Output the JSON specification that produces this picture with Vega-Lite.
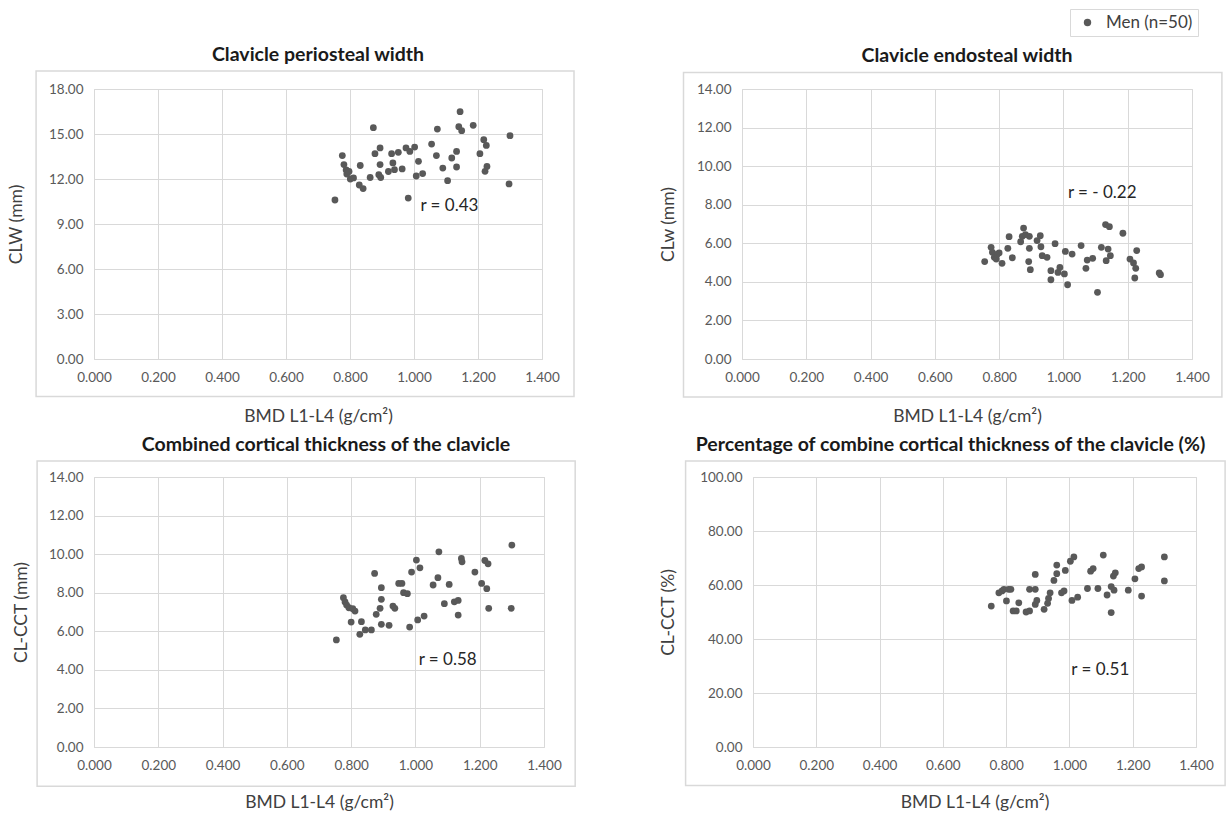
{
  "$schema": "https://vega.github.io/schema/vega-lite/v6.json",
  "background": "white",
  "padding": {"left": 6, "top": 8, "right": 0, "bottom": 0},
  "datasets": {
    "one": [{}],
    "p1": [
      {"bmd":0.753,"v":10.6,"g":"Men (n=50)"},{"bmd":0.776,"v":13.56,"g":"Men (n=50)"},{"bmd":0.781,"v":12.96,"g":"Men (n=50)"},{"bmd":0.788,"v":12.6,"g":"Men (n=50)"},{"bmd":0.79,"v":12.33,"g":"Men (n=50)"},{"bmd":0.797,"v":12.5,"g":"Men (n=50)"},{"bmd":0.801,"v":12.0,"g":"Men (n=50)"},{"bmd":0.811,"v":12.07,"g":"Men (n=50)"},{"bmd":0.829,"v":11.6,"g":"Men (n=50)"},{"bmd":0.832,"v":12.9,"g":"Men (n=50)"},
      {"bmd":0.841,"v":11.36,"g":"Men (n=50)"},{"bmd":0.863,"v":12.1,"g":"Men (n=50)"},{"bmd":0.873,"v":15.42,"g":"Men (n=50)"},{"bmd":0.878,"v":13.69,"g":"Men (n=50)"},{"bmd":0.894,"v":14.07,"g":"Men (n=50)"},{"bmd":0.894,"v":12.96,"g":"Men (n=50)"},{"bmd":0.89,"v":12.29,"g":"Men (n=50)"},{"bmd":0.896,"v":12.1,"g":"Men (n=50)"},{"bmd":0.92,"v":12.5,"g":"Men (n=50)"},{"bmd":0.93,"v":13.69,"g":"Men (n=50)"},
      {"bmd":0.934,"v":13.07,"g":"Men (n=50)"},{"bmd":0.939,"v":12.62,"g":"Men (n=50)"},{"bmd":0.951,"v":13.78,"g":"Men (n=50)"},{"bmd":0.963,"v":12.67,"g":"Men (n=50)"},{"bmd":0.975,"v":14.07,"g":"Men (n=50)"},{"bmd":0.987,"v":13.84,"g":"Men (n=50)"},{"bmd":0.982,"v":10.73,"g":"Men (n=50)"},{"bmd":1.002,"v":14.13,"g":"Men (n=50)"},{"bmd":1.007,"v":12.2,"g":"Men (n=50)"},{"bmd":1.014,"v":13.18,"g":"Men (n=50)"},
      {"bmd":1.027,"v":12.36,"g":"Men (n=50)"},{"bmd":1.055,"v":14.33,"g":"Men (n=50)"},{"bmd":1.07,"v":13.56,"g":"Men (n=50)"},{"bmd":1.073,"v":15.33,"g":"Men (n=50)"},{"bmd":1.09,"v":12.73,"g":"Men (n=50)"},{"bmd":1.105,"v":11.89,"g":"Men (n=50)"},{"bmd":1.118,"v":13.4,"g":"Men (n=50)"},{"bmd":1.133,"v":13.84,"g":"Men (n=50)"},{"bmd":1.133,"v":12.8,"g":"Men (n=50)"},{"bmd":1.14,"v":15.49,"g":"Men (n=50)"},
      {"bmd":1.144,"v":16.49,"g":"Men (n=50)"},{"bmd":1.149,"v":15.22,"g":"Men (n=50)"},{"bmd":1.185,"v":15.58,"g":"Men (n=50)"},{"bmd":1.206,"v":13.69,"g":"Men (n=50)"},{"bmd":1.218,"v":14.62,"g":"Men (n=50)"},{"bmd":1.226,"v":14.24,"g":"Men (n=50)"},{"bmd":1.222,"v":12.51,"g":"Men (n=50)"},{"bmd":1.228,"v":12.84,"g":"Men (n=50)"},{"bmd":1.297,"v":11.67,"g":"Men (n=50)"},{"bmd":1.3,"v":14.89,"g":"Men (n=50)"}
    ],
    "p2": [
      {"bmd":0.755,"v":5.05,"g":"Men (n=50)"},{"bmd":0.775,"v":5.79,"g":"Men (n=50)"},{"bmd":0.779,"v":5.53,"g":"Men (n=50)"},{"bmd":0.785,"v":5.27,"g":"Men (n=50)"},{"bmd":0.791,"v":5.18,"g":"Men (n=50)"},{"bmd":0.795,"v":5.44,"g":"Men (n=50)"},{"bmd":0.8,"v":5.5,"g":"Men (n=50)"},{"bmd":0.809,"v":4.96,"g":"Men (n=50)"},{"bmd":0.827,"v":5.74,"g":"Men (n=50)"},{"bmd":0.831,"v":6.34,"g":"Men (n=50)"},
      {"bmd":0.841,"v":5.25,"g":"Men (n=50)"},{"bmd":0.867,"v":6.08,"g":"Men (n=50)"},{"bmd":0.872,"v":6.36,"g":"Men (n=50)"},{"bmd":0.876,"v":6.79,"g":"Men (n=50)"},{"bmd":0.882,"v":6.45,"g":"Men (n=50)"},{"bmd":0.892,"v":5.05,"g":"Men (n=50)"},{"bmd":0.894,"v":6.36,"g":"Men (n=50)"},{"bmd":0.894,"v":5.74,"g":"Men (n=50)"},{"bmd":0.897,"v":4.63,"g":"Men (n=50)"},{"bmd":0.918,"v":6.14,"g":"Men (n=50)"},
      {"bmd":0.928,"v":6.39,"g":"Men (n=50)"},{"bmd":0.93,"v":5.82,"g":"Men (n=50)"},{"bmd":0.934,"v":5.36,"g":"Men (n=50)"},{"bmd":0.949,"v":5.27,"g":"Men (n=50)"},{"bmd":0.961,"v":4.58,"g":"Men (n=50)"},{"bmd":0.961,"v":4.11,"g":"Men (n=50)"},{"bmd":0.974,"v":5.98,"g":"Men (n=50)"},{"bmd":0.983,"v":4.49,"g":"Men (n=50)"},{"bmd":0.989,"v":4.75,"g":"Men (n=50)"},{"bmd":1.003,"v":4.41,"g":"Men (n=50)"},
      {"bmd":1.006,"v":5.58,"g":"Men (n=50)"},{"bmd":1.013,"v":3.85,"g":"Men (n=50)"},{"bmd":1.027,"v":5.44,"g":"Men (n=50)"},{"bmd":1.055,"v":5.88,"g":"Men (n=50)"},{"bmd":1.07,"v":4.7,"g":"Men (n=50)"},{"bmd":1.074,"v":5.13,"g":"Men (n=50)"},{"bmd":1.091,"v":5.22,"g":"Men (n=50)"},{"bmd":1.106,"v":3.46,"g":"Men (n=50)"},{"bmd":1.118,"v":5.79,"g":"Men (n=50)"},{"bmd":1.133,"v":5.1,"g":"Men (n=50)"},
      {"bmd":1.131,"v":6.97,"g":"Men (n=50)"},{"bmd":1.143,"v":6.86,"g":"Men (n=50)"},{"bmd":1.139,"v":5.7,"g":"Men (n=50)"},{"bmd":1.146,"v":5.36,"g":"Men (n=50)"},{"bmd":1.185,"v":6.52,"g":"Men (n=50)"},{"bmd":1.207,"v":5.18,"g":"Men (n=50)"},{"bmd":1.218,"v":4.98,"g":"Men (n=50)"},{"bmd":1.228,"v":5.62,"g":"Men (n=50)"},{"bmd":1.225,"v":4.7,"g":"Men (n=50)"},{"bmd":1.222,"v":4.2,"g":"Men (n=50)"},
      {"bmd":1.298,"v":4.46,"g":"Men (n=50)"},{"bmd":1.302,"v":4.37,"g":"Men (n=50)"}
    ],
    "p3": [
      {"bmd":0.754,"v":5.55,"g":"Men (n=50)"},{"bmd":0.776,"v":7.74,"g":"Men (n=50)"},{"bmd":0.781,"v":7.52,"g":"Men (n=50)"},{"bmd":0.786,"v":7.36,"g":"Men (n=50)"},{"bmd":0.793,"v":7.22,"g":"Men (n=50)"},{"bmd":0.8,"v":6.48,"g":"Men (n=50)"},{"bmd":0.805,"v":7.17,"g":"Men (n=50)"},{"bmd":0.812,"v":7.05,"g":"Men (n=50)"},{"bmd":0.827,"v":5.84,"g":"Men (n=50)"},{"bmd":0.832,"v":6.5,"g":"Men (n=50)"},
      {"bmd":0.844,"v":6.07,"g":"Men (n=50)"},{"bmd":0.863,"v":6.07,"g":"Men (n=50)"},{"bmd":0.873,"v":9.0,"g":"Men (n=50)"},{"bmd":0.878,"v":6.88,"g":"Men (n=50)"},{"bmd":0.89,"v":7.19,"g":"Men (n=50)"},{"bmd":0.894,"v":8.26,"g":"Men (n=50)"},{"bmd":0.894,"v":7.66,"g":"Men (n=50)"},{"bmd":0.894,"v":6.36,"g":"Men (n=50)"},{"bmd":0.918,"v":6.31,"g":"Men (n=50)"},{"bmd":0.93,"v":7.31,"g":"Men (n=50)"},
      {"bmd":0.936,"v":7.19,"g":"Men (n=50)"},{"bmd":0.948,"v":8.48,"g":"Men (n=50)"},{"bmd":0.958,"v":8.48,"g":"Men (n=50)"},{"bmd":0.963,"v":8.0,"g":"Men (n=50)"},{"bmd":0.975,"v":7.95,"g":"Men (n=50)"},{"bmd":0.982,"v":6.22,"g":"Men (n=50)"},{"bmd":0.988,"v":9.07,"g":"Men (n=50)"},{"bmd":1.003,"v":9.69,"g":"Men (n=50)"},{"bmd":1.007,"v":6.59,"g":"Men (n=50)"},{"bmd":1.014,"v":9.29,"g":"Men (n=50)"},
      {"bmd":1.027,"v":6.79,"g":"Men (n=50)"},{"bmd":1.055,"v":8.4,"g":"Men (n=50)"},{"bmd":1.07,"v":8.78,"g":"Men (n=50)"},{"bmd":1.073,"v":10.12,"g":"Men (n=50)"},{"bmd":1.09,"v":7.43,"g":"Men (n=50)"},{"bmd":1.105,"v":8.43,"g":"Men (n=50)"},{"bmd":1.121,"v":7.53,"g":"Men (n=50)"},{"bmd":1.133,"v":7.6,"g":"Men (n=50)"},{"bmd":1.133,"v":6.84,"g":"Men (n=50)"},{"bmd":1.143,"v":9.78,"g":"Men (n=50)"},
      {"bmd":1.145,"v":9.6,"g":"Men (n=50)"},{"bmd":1.185,"v":9.07,"g":"Men (n=50)"},{"bmd":1.206,"v":8.48,"g":"Men (n=50)"},{"bmd":1.216,"v":9.67,"g":"Men (n=50)"},{"bmd":1.222,"v":8.21,"g":"Men (n=50)"},{"bmd":1.226,"v":9.5,"g":"Men (n=50)"},{"bmd":1.228,"v":7.19,"g":"Men (n=50)"},{"bmd":1.298,"v":7.19,"g":"Men (n=50)"},{"bmd":1.3,"v":10.47,"g":"Men (n=50)"}
    ],
    "p4": [
      {"bmd":0.753,"v":52.2,"g":"Men (n=50)"},{"bmd":0.777,"v":57.1,"g":"Men (n=50)"},{"bmd":0.787,"v":57.8,"g":"Men (n=50)"},{"bmd":0.793,"v":58.4,"g":"Men (n=50)"},{"bmd":0.801,"v":54.1,"g":"Men (n=50)"},{"bmd":0.808,"v":58.4,"g":"Men (n=50)"},{"bmd":0.815,"v":58.4,"g":"Men (n=50)"},{"bmd":0.822,"v":50.4,"g":"Men (n=50)"},{"bmd":0.832,"v":50.4,"g":"Men (n=50)"},{"bmd":0.84,"v":53.4,"g":"Men (n=50)"},
      {"bmd":0.863,"v":50.0,"g":"Men (n=50)"},{"bmd":0.874,"v":50.4,"g":"Men (n=50)"},{"bmd":0.874,"v":58.4,"g":"Men (n=50)"},{"bmd":0.892,"v":63.9,"g":"Men (n=50)"},{"bmd":0.892,"v":58.4,"g":"Men (n=50)"},{"bmd":0.892,"v":52.8,"g":"Men (n=50)"},{"bmd":0.897,"v":54.3,"g":"Men (n=50)"},{"bmd":0.92,"v":51.0,"g":"Men (n=50)"},{"bmd":0.931,"v":53.2,"g":"Men (n=50)"},{"bmd":0.934,"v":55.0,"g":"Men (n=50)"},
      {"bmd":0.939,"v":57.1,"g":"Men (n=50)"},{"bmd":0.951,"v":61.7,"g":"Men (n=50)"},{"bmd":0.96,"v":64.2,"g":"Men (n=50)"},{"bmd":0.96,"v":67.4,"g":"Men (n=50)"},{"bmd":0.975,"v":57.1,"g":"Men (n=50)"},{"bmd":0.983,"v":57.8,"g":"Men (n=50)"},{"bmd":0.987,"v":65.4,"g":"Men (n=50)"},{"bmd":1.003,"v":68.8,"g":"Men (n=50)"},{"bmd":1.008,"v":54.3,"g":"Men (n=50)"},{"bmd":1.014,"v":70.4,"g":"Men (n=50)"},
      {"bmd":1.026,"v":55.5,"g":"Men (n=50)"},{"bmd":1.057,"v":58.7,"g":"Men (n=50)"},{"bmd":1.067,"v":65.1,"g":"Men (n=50)"},{"bmd":1.075,"v":66.1,"g":"Men (n=50)"},{"bmd":1.09,"v":58.7,"g":"Men (n=50)"},{"bmd":1.107,"v":71.1,"g":"Men (n=50)"},{"bmd":1.119,"v":56.3,"g":"Men (n=50)"},{"bmd":1.132,"v":49.8,"g":"Men (n=50)"},{"bmd":1.132,"v":59.4,"g":"Men (n=50)"},{"bmd":1.141,"v":58.1,"g":"Men (n=50)"},
      {"bmd":1.139,"v":63.3,"g":"Men (n=50)"},{"bmd":1.145,"v":64.5,"g":"Men (n=50)"},{"bmd":1.186,"v":58.1,"g":"Men (n=50)"},{"bmd":1.207,"v":62.3,"g":"Men (n=50)"},{"bmd":1.219,"v":66.1,"g":"Men (n=50)"},{"bmd":1.228,"v":66.7,"g":"Men (n=50)"},{"bmd":1.228,"v":55.9,"g":"Men (n=50)"},{"bmd":1.3,"v":70.4,"g":"Men (n=50)"},{"bmd":1.3,"v":61.5,"g":"Men (n=50)"}
    ]
  },
  "vconcat": [
    {
      "spacing": 82,
      "hconcat": [
        {
          "width": 448, "height": 270,
          "title": {"text": "Clavicle periosteal width"},
          "layer": [
            {
              "data": {"name": "one"},
              "mark": {"type": "rect", "filled": false, "stroke": "#d9d9d9", "strokeWidth": 1.5, "clip": false},
              "encoding": {
                "x": {"datum": -0.181, "type": "quantitative"},
                "x2": {"datum": 1.5},
                "y": {"datum": 19.2, "type": "quantitative"},
                "y2": {"datum": -2.5}
              }
            },
            {
              "data": {"name": "p1"},
              "mark": {"type": "circle", "size": 46, "opacity": 1, "color": "#595959"},
              "encoding": {
                "x": {"field": "bmd", "type": "quantitative", "scale": {"domain": [0, 1.4], "nice": false, "zero": false},
                      "axis": {"title": "BMD L1-L4 (g/cm²)", "values": [0, 0.2, 0.4, 0.6, 0.8, 1.0, 1.2, 1.4], "tickCount": 10, "format": ".3f"}},
                "y": {"field": "v", "type": "quantitative", "scale": {"domain": [0, 18], "nice": false},
                      "axis": {"title": "CLW (mm)", "values": [0, 3, 6, 9, 12, 15, 18], "tickCount": 10, "format": ".2f", "titlePadding": 23}}
              }
            },
            {
              "data": {"name": "one"},
              "mark": {"type": "text", "align": "left", "baseline": "middle", "fontSize": 17, "color": "#262626", "text": "r = 0.43"},
              "encoding": {
                "x": {"datum": 1.02, "type": "quantitative"},
                "y": {"datum": 10.2, "type": "quantitative"}
              }
            }
          ]
        },
        {
          "width": 450, "height": 270,
          "title": {"text": "Clavicle endosteal width"},
          "layer": [
            {
              "data": {"name": "one"},
              "mark": {"type": "rect", "filled": false, "stroke": "#d9d9d9", "strokeWidth": 1.5, "clip": false},
              "encoding": {
                "x": {"datum": -0.182, "type": "quantitative"},
                "x2": {"datum": 1.493},
                "y": {"datum": 14.86, "type": "quantitative"},
                "y2": {"datum": -1.97}
              }
            },
            {
              "data": {"name": "p2"},
              "mark": {"type": "circle", "size": 46, "opacity": 1},
              "encoding": {
                "x": {"field": "bmd", "type": "quantitative", "scale": {"domain": [0, 1.4], "nice": false, "zero": false},
                      "axis": {"title": "BMD L1-L4 (g/cm²)", "values": [0, 0.2, 0.4, 0.6, 0.8, 1.0, 1.2, 1.4], "tickCount": 10, "format": ".3f"}},
                "y": {"field": "v", "type": "quantitative", "scale": {"domain": [0, 14], "nice": false},
                      "axis": {"title": "CLw (mm)", "values": [0, 2, 4, 6, 8, 10, 12, 14], "tickCount": 10, "format": ".2f", "titlePadding": 19}},
                "color": {"field": "g", "type": "nominal", "scale": {"range": ["#595959"]},
                          "legend": {"title": null, "orient": "none", "legendX": 976, "legendY": -80, "strokeColor": "#d9d9d9", "padding": 5,
                                     "symbolType": "circle", "symbolSize": 55, "symbolOffset": 4, "labelOffset": 10, "labelFontSize": 17, "labelColor": "#404040", "symbolStrokeWidth": 0}}
              }
            },
            {
              "data": {"name": "one"},
              "mark": {"type": "text", "align": "left", "baseline": "middle", "fontSize": 17, "color": "#262626", "text": "r = - 0.22"},
              "encoding": {
                "x": {"datum": 1.014, "type": "quantitative"},
                "y": {"datum": 8.62, "type": "quantitative"}
              }
            }
          ]
        }
      ]
    },
    {
      "spacing": 82,
      "hconcat": [
        {
          "width": 450, "height": 270,
          "title": {"text": "Combined cortical thickness of the clavicle", "dx": 7},
          "layer": [
            {
              "data": {"name": "one"},
              "mark": {"type": "rect", "filled": false, "stroke": "#d9d9d9", "strokeWidth": 1.5, "clip": false},
              "encoding": {
                "x": {"datum": -0.177, "type": "quantitative"},
                "x2": {"datum": 1.497},
                "y": {"datum": 14.83, "type": "quantitative"},
                "y2": {"datum": -2.04}
              }
            },
            {
              "data": {"name": "p3"},
              "mark": {"type": "circle", "size": 46, "opacity": 1, "color": "#595959"},
              "encoding": {
                "x": {"field": "bmd", "type": "quantitative", "scale": {"domain": [0, 1.4], "nice": false, "zero": false},
                      "axis": {"title": "BMD L1-L4 (g/cm²)", "values": [0, 0.2, 0.4, 0.6, 0.8, 1.0, 1.2, 1.4], "tickCount": 10, "format": ".3f", "titlePadding": 22}},
                "y": {"field": "v", "type": "quantitative", "scale": {"domain": [0, 14], "nice": false},
                      "axis": {"title": "CL-CCT  (mm)", "values": [0, 2, 4, 6, 8, 10, 12, 14], "tickCount": 10, "format": ".2f", "titlePadding": 18}}
              }
            },
            {
              "data": {"name": "one"},
              "mark": {"type": "text", "align": "left", "baseline": "middle", "fontSize": 17, "color": "#262626", "text": "r = 0.58"},
              "encoding": {
                "x": {"datum": 1.01, "type": "quantitative"},
                "y": {"datum": 4.5, "type": "quantitative"}
              }
            }
          ]
        },
        {
          "width": 443, "height": 270,
          "title": {"text": "Percentage of combine cortical thickness of the clavicle (%)", "dx": -24},
          "layer": [
            {
              "data": {"name": "one"},
              "mark": {"type": "rect", "filled": false, "stroke": "#d9d9d9", "strokeWidth": 1.5, "clip": false},
              "encoding": {
                "x": {"datum": -0.213, "type": "quantitative"},
                "x2": {"datum": 1.492},
                "y": {"datum": 105.9, "type": "quantitative"},
                "y2": {"datum": -14.3}
              }
            },
            {
              "data": {"name": "p4"},
              "mark": {"type": "circle", "size": 46, "opacity": 1, "color": "#595959"},
              "encoding": {
                "x": {"field": "bmd", "type": "quantitative", "scale": {"domain": [0, 1.4], "nice": false, "zero": false},
                      "axis": {"title": "BMD L1-L4 (g/cm²)", "values": [0, 0.2, 0.4, 0.6, 0.8, 1.0, 1.2, 1.4], "tickCount": 10, "format": ".3f", "titlePadding": 22}},
                "y": {"field": "v", "type": "quantitative", "scale": {"domain": [0, 100], "nice": false},
                      "axis": {"title": "CL-CCT  (%)", "values": [0, 20, 40, 60, 80, 100], "tickCount": 10, "format": ".2f", "titlePadding": 22}}
              }
            },
            {
              "data": {"name": "one"},
              "mark": {"type": "text", "align": "left", "baseline": "middle", "fontSize": 17, "color": "#262626", "text": "r = 0.51"},
              "encoding": {
                "x": {"datum": 1.006, "type": "quantitative"},
                "y": {"datum": 28.6, "type": "quantitative"}
              }
            }
          ]
        }
      ]
    }
  ],
  "spacing": 8,
  "config": {
    "font": "Lato",
    "view": {"stroke": "#d9d9d9"},
    "axis": {
      "grid": true, "gridColor": "#d9d9d9", "domain": false, "ticks": false, "labelFlush": false,
      "labelColor": "#595959", "labelFontSize": 13.5, "labelPadding": 11,
      "titleFontSize": 17.5, "titleFontWeight": "normal", "titleColor": "#404040"
    },
    "axisX": {"titlePadding": 24},
    "title": {"fontSize": 19.5, "fontWeight": "bold", "color": "#1a1a1a", "offset": 5, "frame": "group"}
  }
}
